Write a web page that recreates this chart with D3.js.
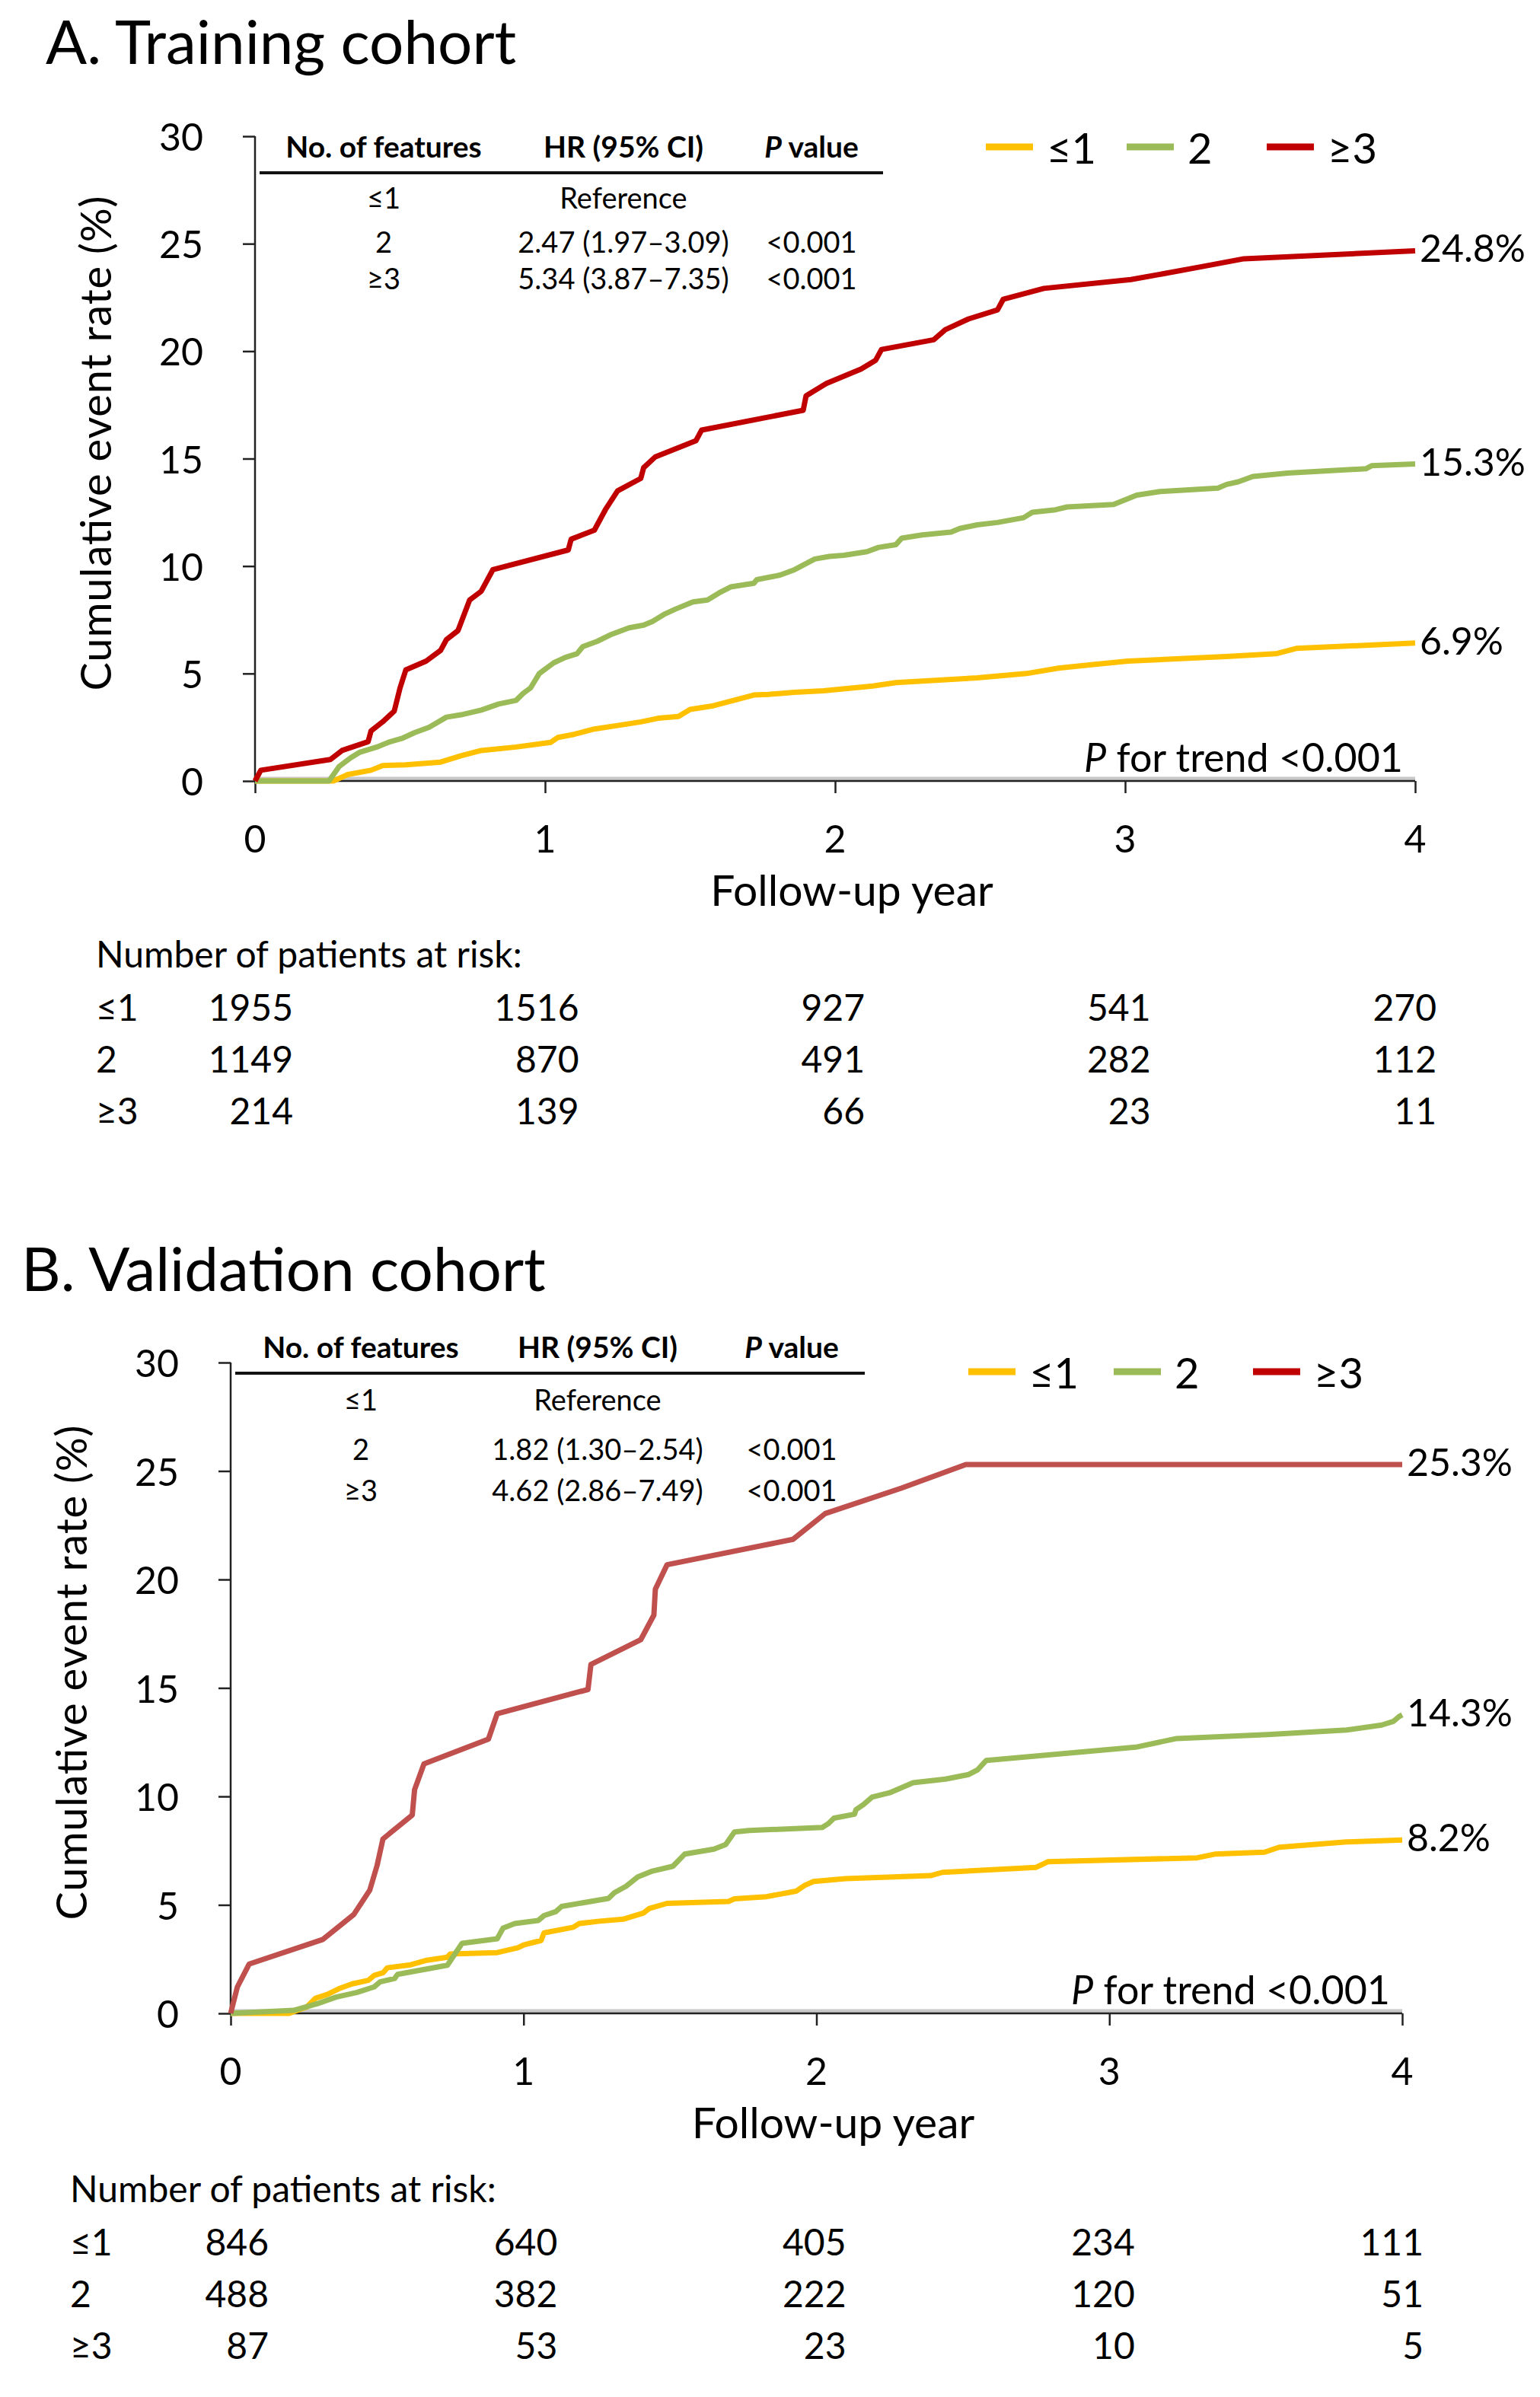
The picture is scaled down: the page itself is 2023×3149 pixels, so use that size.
<!DOCTYPE html>
<html>
<head>
<meta charset="utf-8">
<script src="https://cdn.jsdelivr.net/npm/d3@7"></script>
<style>
  body { margin: 0; background: #fff; }
  svg { display: block; font-family: Lato, 'Open Sans', sans-serif; }
</style>
</head>
<body>
<div id="graf"></div>
<script>
// -- Datos
const years = [0, 1, 2, 3, 4]
const yTicks = [0, 5, 10, 15, 20, 25, 30]
const groups = ['≤1', '2', '≥3']

const trainLe1 = [[0,0],[0.27,0],[0.32,0.3],[0.40,0.5],[0.44,0.72],[0.52,0.75],[0.64,0.88],[0.71,1.17],[0.78,1.42],[0.90,1.58],[1.02,1.8],[1.045,2.03],[1.10,2.17],[1.17,2.42],[1.25,2.58],[1.33,2.75],[1.39,2.92],[1.46,3.0],[1.50,3.33],[1.58,3.5],[1.65,3.75],[1.72,4.0],[1.77,4.03],[1.86,4.13],[1.96,4.2],[2.13,4.42],[2.21,4.58],[2.49,4.8],[2.66,5.0],[2.77,5.25],[2.89,5.42],[3.01,5.58],[3.36,5.8],[3.52,5.92],[3.59,6.17],[3.72,6.25],[4.0,6.42]]
const trainTwo = [[0,0],[0.255,0],[0.29,0.67],[0.33,1.08],[0.36,1.33],[0.42,1.58],[0.46,1.8],[0.51,2.0],[0.55,2.25],[0.60,2.5],[0.66,2.97],[0.71,3.08],[0.78,3.3],[0.84,3.58],[0.90,3.75],[0.925,4.08],[0.95,4.33],[0.98,5.0],[1.03,5.5],[1.07,5.75],[1.11,5.92],[1.13,6.25],[1.18,6.5],[1.23,6.83],[1.29,7.13],[1.34,7.25],[1.37,7.42],[1.41,7.75],[1.45,8.0],[1.51,8.33],[1.56,8.42],[1.60,8.75],[1.64,9.03],[1.72,9.2],[1.73,9.37],[1.81,9.58],[1.86,9.83],[1.93,10.33],[1.98,10.45],[2.03,10.5],[2.11,10.67],[2.15,10.87],[2.21,11.0],[2.23,11.3],[2.30,11.45],[2.40,11.58],[2.43,11.75],[2.49,11.92],[2.56,12.03],[2.65,12.25],[2.68,12.5],[2.76,12.62],[2.80,12.75],[2.96,12.87],[3.04,13.3],[3.12,13.47],[3.32,13.63],[3.35,13.8],[3.39,13.92],[3.44,14.17],[3.56,14.33],[3.83,14.53],[3.85,14.67],[4.0,14.75]]
const trainGe3 = [[0,0],[0.02,0.5],[0.26,1.0],[0.30,1.42],[0.39,1.83],[0.40,2.33],[0.44,2.75],[0.48,3.25],[0.50,4.33],[0.52,5.17],[0.59,5.58],[0.64,6.08],[0.66,6.58],[0.70,7.0],[0.74,8.42],[0.78,8.83],[0.82,9.83],[1.08,10.75],[1.09,11.25],[1.17,11.67],[1.21,12.67],[1.25,13.5],[1.33,14.08],[1.34,14.58],[1.38,15.08],[1.52,15.83],[1.54,16.33],[1.89,17.25],[1.90,17.92],[1.97,18.5],[2.09,19.17],[2.14,19.58],[2.16,20.08],[2.34,20.53],[2.38,21.0],[2.46,21.5],[2.56,21.92],[2.58,22.42],[2.72,22.92],[3.02,23.33],[3.26,23.92],[3.41,24.3],[4.0,24.67]]

const validLe1 = [[0,0],[0.20,0],[0.26,0.30],[0.29,0.70],[0.33,0.87],[0.37,1.14],[0.415,1.36],[0.47,1.52],[0.49,1.75],[0.52,1.87],[0.535,2.10],[0.615,2.24],[0.67,2.45],[0.74,2.59],[0.75,2.74],[0.91,2.80],[0.98,3.02],[1.0,3.15],[1.06,3.36],[1.07,3.71],[1.17,3.97],[1.19,4.14],[1.26,4.25],[1.34,4.34],[1.41,4.63],[1.43,4.84],[1.49,5.07],[1.70,5.16],[1.72,5.28],[1.83,5.38],[1.93,5.63],[1.96,5.90],[1.99,6.08],[2.10,6.21],[2.39,6.35],[2.43,6.50],[2.75,6.73],[2.79,6.99],[3.30,7.17],[3.36,7.34],[3.53,7.43],[3.58,7.66],[3.81,7.90],[4.0,7.99]]
const validTwo = [[0,0],[0.215,0.14],[0.295,0.44],[0.36,0.75],[0.43,0.96],[0.49,1.22],[0.51,1.45],[0.56,1.61],[0.57,1.80],[0.74,2.22],[0.76,2.62],[0.79,3.23],[0.91,3.44],[0.93,3.93],[0.97,4.14],[1.05,4.28],[1.07,4.51],[1.11,4.69],[1.13,4.93],[1.29,5.30],[1.31,5.56],[1.35,5.86],[1.39,6.29],[1.44,6.56],[1.51,6.78],[1.55,7.34],[1.65,7.57],[1.69,7.78],[1.72,8.36],[1.77,8.43],[2.02,8.57],[2.04,8.74],[2.06,9.0],[2.13,9.18],[2.135,9.39],[2.16,9.62],[2.19,9.97],[2.25,10.17],[2.33,10.63],[2.44,10.8],[2.52,11.01],[2.55,11.22],[2.58,11.66],[3.09,12.27],[3.23,12.67],[3.54,12.85],[3.81,13.06],[3.93,13.29],[3.97,13.46],[3.99,13.69],[4.0,13.76]]
const validGe3 = [[0,0],[0.023,1.22],[0.063,2.27],[0.315,3.41],[0.42,4.55],[0.475,5.68],[0.50,6.82],[0.52,8.04],[0.62,9.14],[0.628,10.31],[0.66,11.5],[0.88,12.64],[0.91,13.81],[1.22,14.93],[1.23,16.08],[1.40,17.22],[1.445,18.36],[1.45,19.55],[1.49,20.68],[1.92,21.85],[2.03,23.04],[2.29,24.21],[2.51,25.3],[4.0,25.3]]

const trainEnd = ['6.9%', '15.3%', '24.8%']
const validEnd = ['8.2%', '14.3%', '25.3%']

const trainRisk = [[1955, 1516, 927, 541, 270], [1149, 870, 491, 282, 112], [214, 139, 66, 23, 11]]
const validRisk = [[846, 640, 405, 234, 111], [488, 382, 222, 120, 51], [87, 53, 23, 10, 5]]

const hrHeader = ['No. of features', 'HR (95% CI)', 'P value']
const trainHR = [['≤1', 'Reference', ''], ['2', '2.47 (1.97–3.09)', '<0.001'], ['≥3', '5.34 (3.87–7.35)', '<0.001']]
const validHR = [['≤1', 'Reference', ''], ['2', '1.82 (1.30–2.54)', '<0.001'], ['≥3', '4.62 (2.86–7.49)', '<0.001']]

// -- Lienzo
const W = 2023, H = 3149
const svg = d3.select('#graf').append('svg')
    .attr('width', W).attr('height', H)
    .attr('viewBox', `0 0 ${W} ${H}`)

svg.append('rect').attr('width', W).attr('height', H).attr('fill', '#fff')

const lineColors = ['#FFC000', '#9BBB59']

function panel(cfg) {
    const g = svg.append('g')
    const x = d3.scaleLinear().domain([0, 4]).range([cfg.left, cfg.right])
    const y = d3.scaleLinear().domain([0, 30]).range([cfg.bottom, cfg.top])

    // -- Título
    g.append('text')
        .attr('x', cfg.titleX).attr('y', cfg.titleY)
        .attr('font-size', 80)
        .attr('fill', '#000')
        .text(cfg.title)

    // -- Línea gris en cero
    g.append('line')
        .attr('x1', x(0)).attr('x2', x(4))
        .attr('y1', y(0) - 3).attr('y2', y(0) - 3)
        .attr('stroke', '#c8c8c8').attr('stroke-width', 5)

    // -- Ejes
    const yAxis = d3.axisLeft(y).tickValues(yTicks).tickSize(16).tickFormat('')
    const xAxis = d3.axisBottom(x).tickValues(years).tickSize(16).tickFormat('')
    const ya = g.append('g').attr('transform', `translate(${x(0)},0)`).call(yAxis)
    const xa = g.append('g').attr('transform', `translate(0,${y(0)})`).call(xAxis)
    ;[ya, xa].forEach(a => {
        a.select('.domain').attr('stroke', '#222').attr('stroke-width', 2.5)
        a.selectAll('.tick line').attr('stroke', '#222').attr('stroke-width', 2.5)
    })
    // quitar los extremos de la línea de dominio
    ya.select('.domain').attr('d', `M0,${y(30)}V${y(0)}`)
    xa.select('.domain').attr('d', `M${x(0)},0H${x(4)}`)

    g.selectAll('.ylab').data(yTicks).join('text')
        .attr('x', x(0) - 68).attr('y', d => y(d))
        .attr('text-anchor', 'end').attr('dominant-baseline', 'central')
        .attr('font-size', 50)
        .text(d => d)

    g.selectAll('.xlab').data(years).join('text')
        .attr('x', d => x(d)).attr('y', y(0) + 94)
        .attr('text-anchor', 'middle')
        .attr('font-size', 50)
        .text(d => d)

    g.append('text')
        .attr('x', (x(0) + x(4)) / 2 + 22).attr('y', y(0) + 164)
        .attr('text-anchor', 'middle')
        .attr('font-size', 57)
        .text('Follow-up year')

    g.append('text')
        .attr('transform', `translate(${cfg.yTitleX},${(y(0) + y(30)) / 2 - 20}) rotate(-90)`)
        .attr('text-anchor', 'middle').attr('dominant-baseline', 'central')
        .attr('font-size', 56)
        .attr('textLength', 650).attr('lengthAdjust', 'spacing')
        .text('Cumulative event rate (%)')

    // -- Curvas
    const line = d3.line().x(d => x(d[0])).y(d => y(d[1]))
    const colors = [lineColors[0], lineColors[1], cfg.red]
    cfg.series.forEach((s, i) => {
        g.append('path')
            .datum(s)
            .attr('d', line)
            .attr('fill', 'none')
            .attr('stroke', colors[i])
            .attr('stroke-width', 7)
            .attr('stroke-linejoin', 'round')
    })

    // -- Etiquetas finales
    cfg.series.forEach((s, i) => {
        const last = s[s.length - 1]
        g.append('text')
            .attr('x', x(last[0]) + 6).attr('y', y(last[1]) - 4)
            .attr('dominant-baseline', 'central')
            .attr('font-size', 50)
            .text(cfg.endLabels[i])
    })

    // -- P for trend
    const pt = g.append('text')
        .attr('x', x(4) - 16).attr('y', y(0) - 12)
        .attr('text-anchor', 'end')
        .attr('font-size', 52)
    pt.append('tspan').attr('font-style', 'italic').text('P')
    pt.append('tspan').text(' for trend <0.001')

    // -- Leyenda
    const legColors = [lineColors[0], lineColors[1], '#C00000']
    const lg = g.append('g').attr('transform', `translate(${cfg.legX},${cfg.legY})`)
    groups.forEach((k, i) => {
        const ox = cfg.legStep[i]
        lg.append('line')
            .attr('x1', ox).attr('x2', ox + 62)
            .attr('y1', 0).attr('y2', 0)
            .attr('stroke', legColors[i]).attr('stroke-width', 9)
        lg.append('text')
            .attr('x', ox + 80).attr('y', 0)
            .attr('dominant-baseline', 'central')
            .attr('font-size', 56)
            .text(k)
    })

    // -- Tabla HR
    const cols = cfg.hrCols
    const hg = g.append('g')
    hrHeader.forEach((h, i) => {
        const t = hg.append('text')
            .attr('x', cols[i]).attr('y', cfg.hrHeadY)
            .attr('text-anchor', 'middle')
            .attr('font-size', 39).attr('font-weight', 'bold')
        if (h.startsWith('P ')) {
            t.append('tspan').attr('font-style', 'italic').text('P')
            t.append('tspan').text(' value')
        } else {
            t.text(h)
        }
    })
    hg.append('line')
        .attr('x1', cfg.hrLine[0]).attr('x2', cfg.hrLine[1])
        .attr('y1', cfg.hrLineY).attr('y2', cfg.hrLineY)
        .attr('stroke', '#111').attr('stroke-width', 4)
    cfg.hr.forEach((row, r) => {
        row.forEach((c, i) => {
            hg.append('text')
                .attr('x', cols[i]).attr('y', cfg.hrRowY[r])
                .attr('text-anchor', 'middle').attr('dominant-baseline', 'central')
                .attr('font-size', 38)
                .text(c)
        })
    })

    // -- Pacientes en riesgo
    const rx = d3.scaleLinear().domain([0, 4]).range([x(0) + 50, x(4) + 28])
    g.append('text')
        .attr('x', cfg.riskX).attr('y', cfg.riskHeadY)
        .attr('dominant-baseline', 'central')
        .attr('font-size', 48)
        .text('Number of patients at risk:')
    cfg.risk.forEach((row, r) => {
        const yy = cfg.riskHeadY + 70 + r * 68
        g.append('text')
            .attr('x', cfg.riskX).attr('y', yy)
            .attr('dominant-baseline', 'central')
            .attr('font-size', 48)
            .text(groups[r])
        g.selectAll(null).data(row).join('text')
            .attr('x', (d, i) => rx(years[i])).attr('y', yy)
            .attr('text-anchor', 'end').attr('dominant-baseline', 'central')
            .attr('font-size', 48)
            .text(d => d)
    })
}

panel({
    title: 'A. Training cohort', titleX: 60, titleY: 84,
    left: 335, right: 1859, top: 179, bottom: 1026,
    yTitleX: 124,
    series: [trainLe1, trainTwo, trainGe3], red: '#C00000',
    endLabels: trainEnd,
    legX: 1295, legY: 193, legStep: [0, 185, 369],
    hr: trainHR, hrCols: [504, 819, 1066], hrHeadY: 207,
    hrLine: [341, 1160], hrLineY: 227, hrRowY: [259, 317, 365],
    risk: trainRisk, riskX: 126, riskHeadY: 1252
})

panel({
    title: 'B. Validation cohort', titleX: 28, titleY: 1696,
    left: 303, right: 1842, top: 1790, bottom: 2645,
    yTitleX: 92,
    series: [validLe1, validTwo, validGe3], red: '#C0504D',
    endLabels: validEnd,
    legX: 1272, legY: 1802, legStep: [0, 191, 374],
    hr: validHR, hrCols: [474, 785, 1040], hrHeadY: 1784,
    hrLine: [309, 1136], hrLineY: 1804, hrRowY: [1838, 1903, 1957],
    risk: validRisk, riskX: 92, riskHeadY: 2874
})
</script>
</body>
</html>
